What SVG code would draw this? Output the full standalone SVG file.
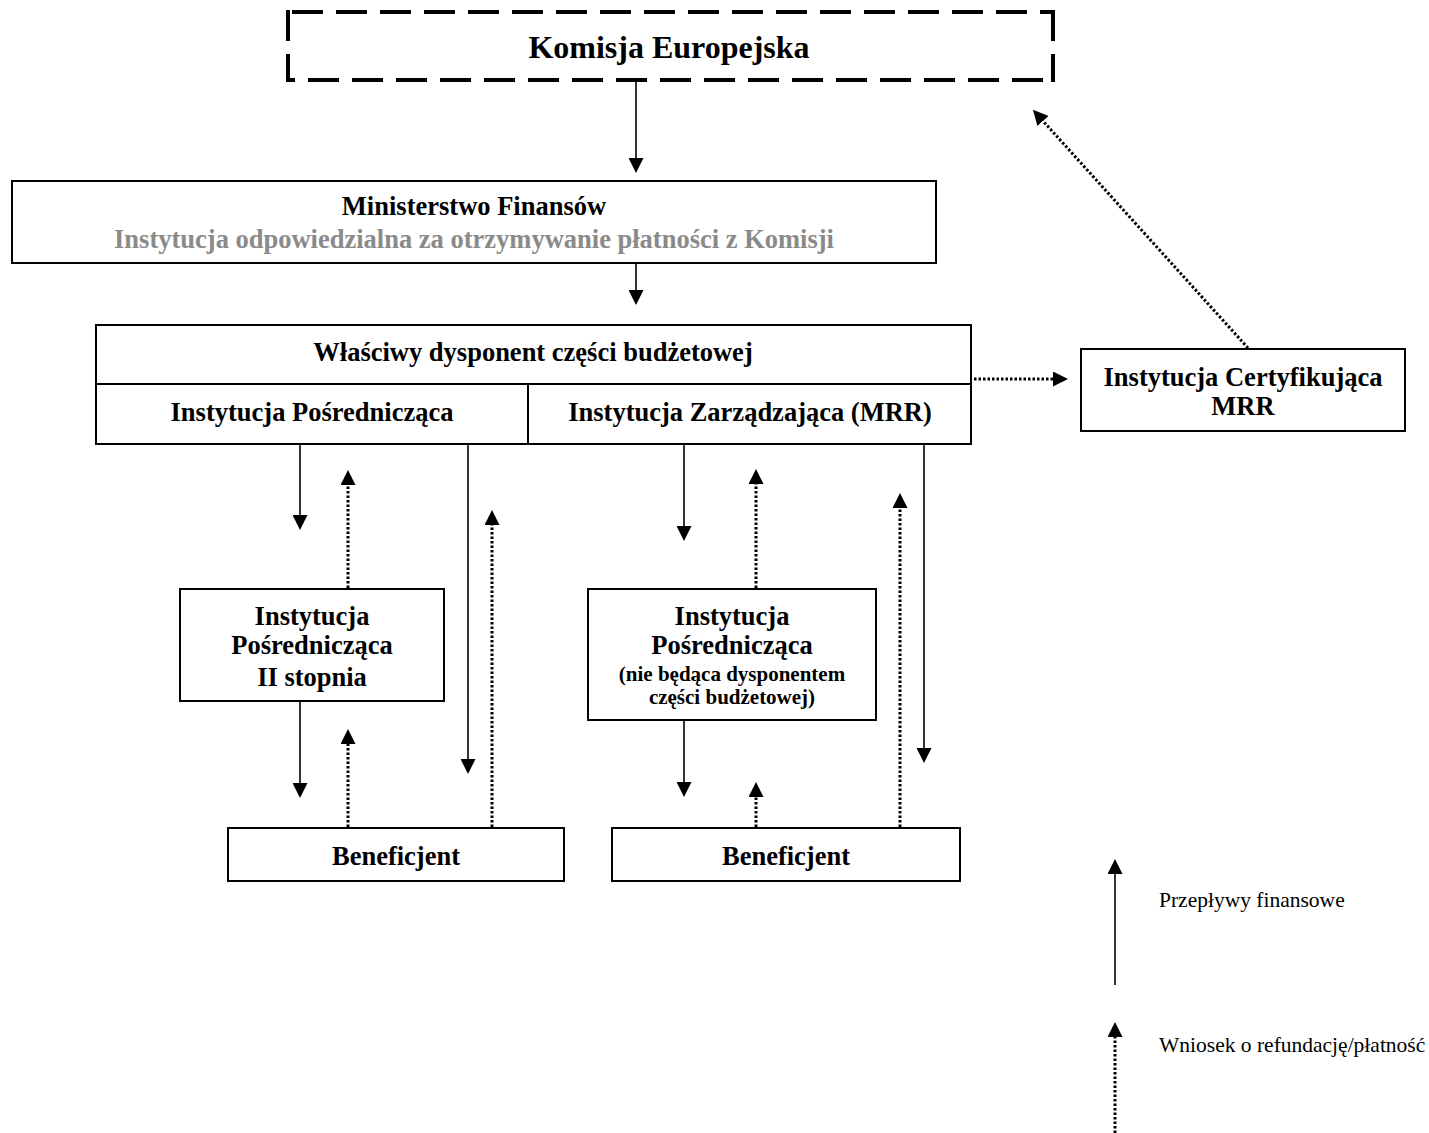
<svg xmlns="http://www.w3.org/2000/svg" width="1429" height="1133" viewBox="0 0 1429 1133">
<style>
.box{fill:#fff;stroke:#000;stroke-width:2}
.t{font-family:"Liberation Serif","Times New Roman",serif;font-weight:bold;font-size:26.5px;text-anchor:middle;fill:#000}
.big{font-size:32px}
.gray{fill:#8a8a8a}
.sm{font-size:21px}
.leg{font-family:"Liberation Serif","Times New Roman",serif;font-size:21.5px;fill:#000}
.sol{stroke:#000;stroke-width:1.6;fill:none}
.dot{stroke:#000;stroke-width:3;stroke-dasharray:2.5 2;fill:none}
.dash{stroke:#000;stroke-width:4;stroke-dasharray:31 13;fill:none}
</style>
<defs>
<marker id="ah" viewBox="0 0 15 15" refX="0" refY="7.5" markerWidth="15" markerHeight="15" markerUnits="userSpaceOnUse" orient="auto">
<path d="M0,0 L15,7.5 L0,15 z" fill="#000"/>
</marker>
</defs>

<g id="komisja">
<rect x="288" y="12" width="765" height="68" fill="#fff"/>
<line class="dash" x1="288" y1="12" x2="1053" y2="12" stroke-dashoffset="40"/>
<line class="dash" x1="288" y1="80" x2="1053" y2="80" stroke-dashoffset="24"/>
<line class="dash" x1="288" y1="10" x2="288" y2="82"/>
<line class="dash" x1="1053" y1="10" x2="1053" y2="82"/>
<text class="t big" x="669" y="58">Komisja Europejska</text>
</g>

<g id="ministerstwo">
<rect class="box" x="12" y="181" width="924" height="82"/>
<text class="t" x="474" y="215">Ministerstwo Finansów</text>
<text class="t gray" x="474" y="248">Instytucja odpowiedzialna za otrzymywanie płatności z Komisji</text>
</g>

<g id="dysponent">
<rect class="box" x="96" y="325" width="875" height="119"/>
<line class="box" x1="96" y1="384" x2="971" y2="384"/>
<line class="box" x1="528" y1="384" x2="528" y2="444"/>
<text class="t" x="533" y="361">Właściwy dysponent części budżetowej</text>
<text class="t" x="312" y="421">Instytucja Pośrednicząca</text>
<text class="t" x="750" y="421">Instytucja Zarządzająca (MRR)</text>
</g>

<g id="certyfikujaca">
<rect class="box" x="1081" y="349" width="324" height="82"/>
<text class="t" x="1243" y="386">Instytucja Certyfikująca</text>
<text class="t" x="1243" y="415">MRR</text>
</g>

<g id="ip2">
<rect class="box" x="180" y="589" width="264" height="112"/>
<text class="t" x="312" y="625">Instytucja</text>
<text class="t" x="312" y="654">Pośrednicząca</text>
<text class="t" x="312" y="686">II stopnia</text>
</g>

<g id="ip-niedysponent">
<rect class="box" x="588" y="589" width="288" height="131"/>
<text class="t" x="732" y="625">Instytucja</text>
<text class="t" x="732" y="654">Pośrednicząca</text>
<text class="t sm" x="732" y="681">(nie będąca dysponentem</text>
<text class="t sm" x="732" y="704">części budżetowej)</text>
</g>

<g id="beneficjent-1">
<rect class="box" x="228" y="828" width="336" height="53"/>
<text class="t" x="396" y="865">Beneficjent</text>
</g>

<g id="beneficjent-2">
<rect class="box" x="612" y="828" width="348" height="53"/>
<text class="t" x="786" y="865">Beneficjent</text>
</g>

<g id="legend">
<text class="leg" x="1159" y="907">Przepływy finansowe</text>
<text class="leg" x="1159" y="1052">Wniosek o refundację/płatność</text>
</g>

<g id="connectors">
<line class="sol" x1="636" y1="82" x2="636" y2="158" marker-end="url(#ah)"/>
<line class="sol" x1="636" y1="263" x2="636" y2="290" marker-end="url(#ah)"/>
<line class="dot" x1="974" y1="379" x2="1053" y2="379" marker-end="url(#ah)"/>
<line class="dot" x1="1248" y1="348" x2="1043" y2="121" marker-end="url(#ah)"/>

<line class="sol" x1="300" y1="444" x2="300" y2="515" marker-end="url(#ah)"/>
<line class="dot" x1="348" y1="588" x2="348" y2="485" marker-end="url(#ah)"/>
<line class="sol" x1="468" y1="444" x2="468" y2="759" marker-end="url(#ah)"/>
<line class="dot" x1="492" y1="827" x2="492" y2="525" marker-end="url(#ah)"/>
<line class="sol" x1="300" y1="701" x2="300" y2="783" marker-end="url(#ah)"/>
<line class="dot" x1="348" y1="827" x2="348" y2="744" marker-end="url(#ah)"/>

<line class="sol" x1="684" y1="444" x2="684" y2="526" marker-end="url(#ah)"/>
<line class="dot" x1="756" y1="588" x2="756" y2="484" marker-end="url(#ah)"/>
<line class="sol" x1="924" y1="444" x2="924" y2="748" marker-end="url(#ah)"/>
<line class="dot" x1="900" y1="827" x2="900" y2="508" marker-end="url(#ah)"/>
<line class="sol" x1="684" y1="720" x2="684" y2="782" marker-end="url(#ah)"/>
<line class="dot" x1="756" y1="827" x2="756" y2="797" marker-end="url(#ah)"/>

<line class="sol" x1="1115" y1="985" x2="1115" y2="874" marker-end="url(#ah)"/>
<line class="dot" x1="1115" y1="1133" x2="1115" y2="1037" marker-end="url(#ah)"/>
</g>
</svg>
